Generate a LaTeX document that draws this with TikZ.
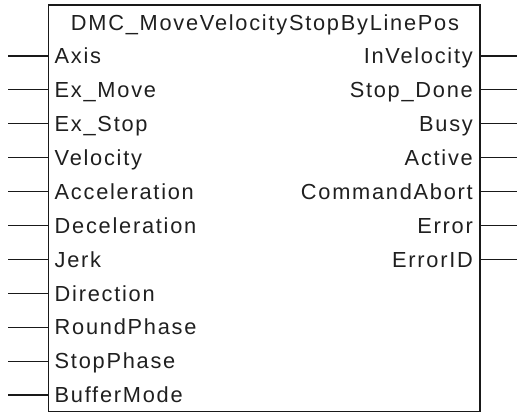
\documentclass[tikz,border=0pt]{standalone}
\usepackage{fontspec}
\setmainfont{Liberation Sans}[LetterSpace=8]
\begin{document}
\begin{tikzpicture}[x=1pt,y=-1pt,
  lbl/.style={font=\fontsize{21.8}{24}\selectfont, text=black!88, inner sep=0pt},
  pin/.style={line width=1.2pt, draw=black!90},
  boxst/.style={draw=black!90, line width=1.5pt, inner sep=0pt, anchor=north west,
    minimum width=431.5pt, minimum height=406.5pt}]
\useasboundingbox (0,0) rectangle (517,412);
\node[boxst] (fb) at (47.5,4.5) {};
\node[lbl, anchor=base] (title) at (265,31) {DMC\_MoveVelocityStopByLinePos};
\foreach \t [count=\i from 0] in {Axis,Ex\_Move,Ex\_Stop,Velocity,Acceleration,Deceleration,Jerk,Direction,RoundPhase,StopPhase,BufferMode}{
  \pgfmathsetmacro\yy{56+33.9*\i}
  \coordinate (inE\i) at (8,\yy);
  \coordinate (inB\i) at (fb.west |- inE\i);
  \node[lbl, anchor=base west] (in\i) at (54.5,\yy+7.7) {\t};
  \draw[pin] (inE\i) -- (inB\i);
}
\foreach \t [count=\i from 0] in {InVelocity,Stop\_Done,Busy,Active,CommandAbort,Error,ErrorID}{
  \pgfmathsetmacro\yy{56+33.9*\i}
  \coordinate (outE\i) at (517,\yy);
  \coordinate (outB\i) at (fb.east |- outE\i);
  \node[lbl, anchor=base east] (out\i) at (473,\yy+7.7) {\t};
  \draw[pin] (outB\i) -- (outE\i);
}
\end{tikzpicture}
\end{document}
